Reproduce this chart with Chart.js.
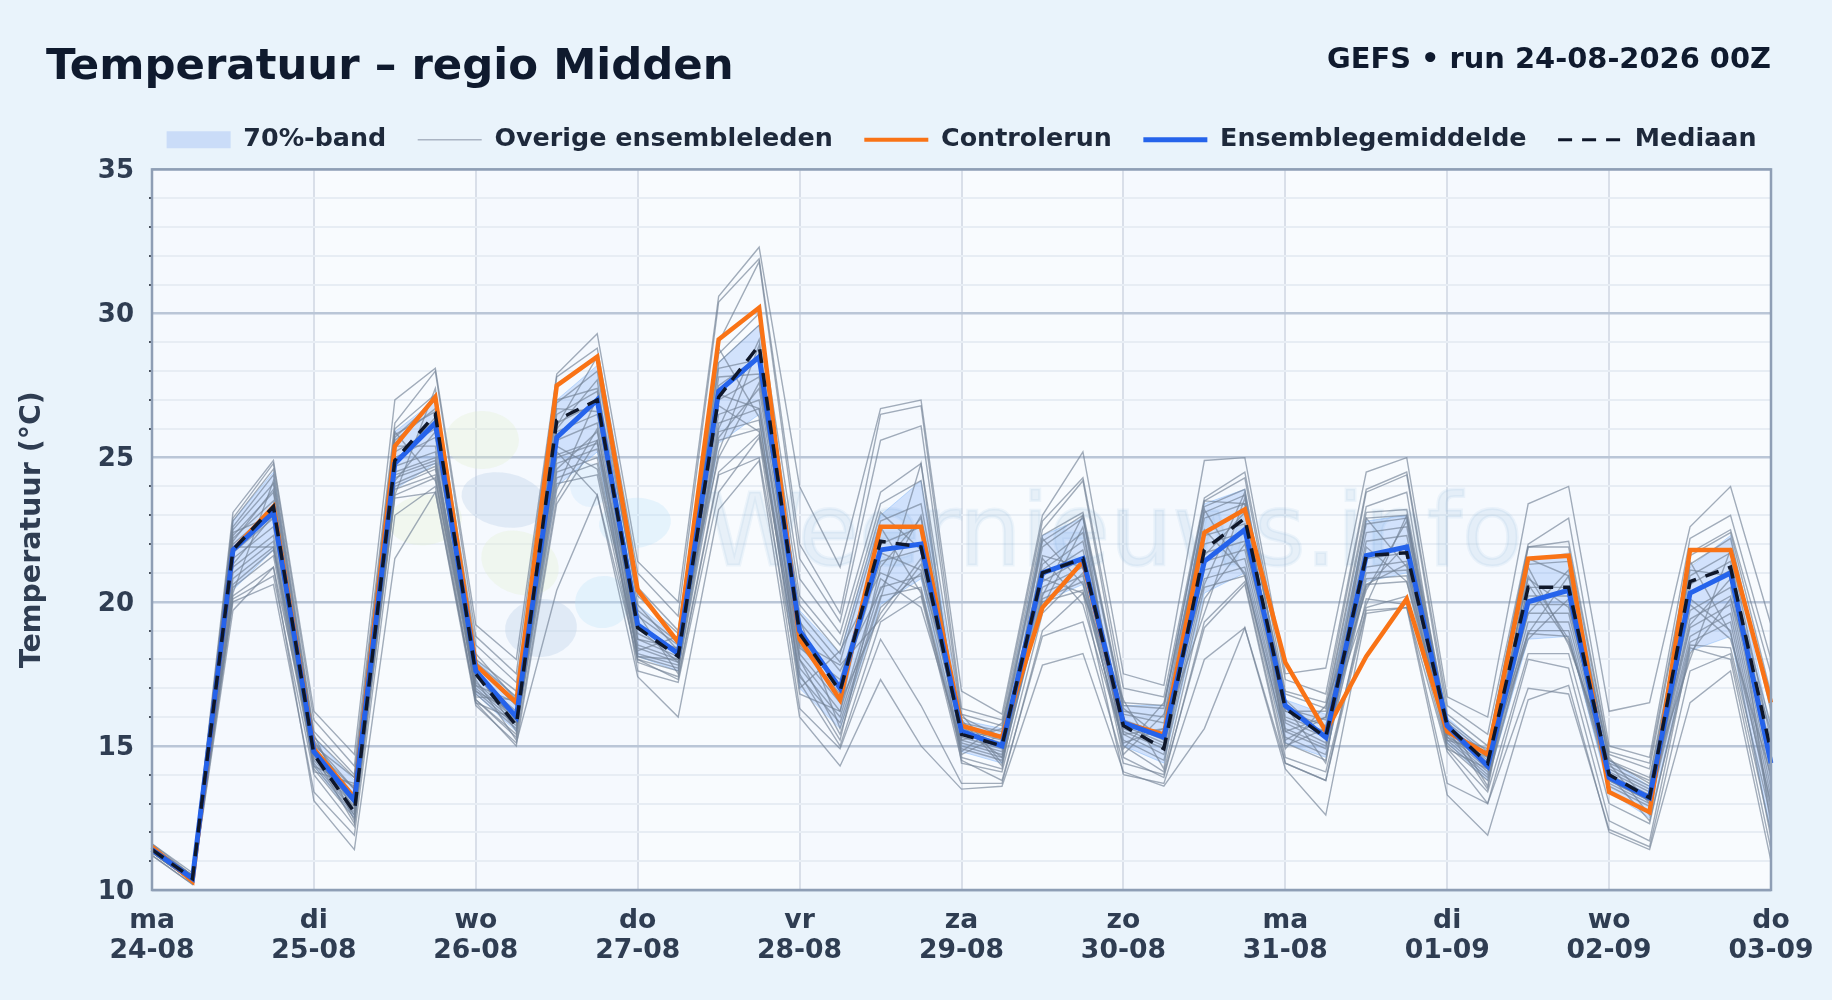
<!DOCTYPE html>
<html lang="nl">
<head>
    <meta charset="UTF-8" />
    <title>Temperatuur - regio Midden</title>
    <script src="https://cdn.jsdelivr.net/npm/chart.js"></script>
    <style>
        html, body { margin: 0; padding: 0; background: #e9f3fb; }
        body { width: 1832px; height: 1000px; position: relative; overflow: hidden; font-family: "DejaVu Sans", sans-serif; }
        h1 { position: absolute; left: 46px; top: 35px; margin: 0; font-size: 43.4px; line-height: 58px; font-weight: 700; color: #0f1a2e; }
        #run { position: absolute; right: 61px; top: 40px; font-size: 28.9px; line-height: 36px; font-weight: 700; color: #0f1a2e; }
        #wrap { position: absolute; left: 0; top: 0; width: 1832px; height: 1000px; }
    </style>
</head>
<body>
    <div id="wrap"><canvas id="tempChart"></canvas></div>
    <h1>Temperatuur – regio Midden</h1>
    <div id="run">GEFS • run 24-08-2026 00Z</div>

    <script>
        // one label per day, the run has 6-hourly steps
        const dayNames = ["ma", "di", "wo", "do", "vr", "za", "zo", "ma", "di", "wo", "do"];
        const dayDates = ["24-08", "25-08", "26-08", "27-08", "28-08", "29-08", "30-08", "31-08", "01-09", "02-09", "03-09"];
        const stepsPerDay = 4;
        const stepCount = 41;

        const ensembleMean = [11.4, 10.4, 21.8, 23.1, 14.8, 13.1, 24.8, 26.2, 17.6, 16.0, 25.7, 27.0, 19.2, 18.2, 27.3, 28.5, 19.0, 17.0, 21.8, 22.0, 15.5, 15.0, 21.0, 21.5, 15.8, 15.3, 21.4, 22.5, 16.4, 15.3, 21.6, 21.9, 15.7, 14.3, 20.0, 20.4, 13.9, 13.2, 20.3, 21.0, 14.4];
        const controlRun = [11.5, 10.3, 21.8, 23.3, 14.9, 13.2, 25.4, 27.1, 17.8, 16.5, 27.5, 28.5, 20.4, 18.6, 29.1, 30.2, 18.7, 16.6, 22.6, 22.6, 15.7, 15.3, 19.8, 21.4, 15.8, 15.4, 22.4, 23.2, 17.9, 15.5, 18.1, 20.1, 15.5, 14.7, 21.5, 21.6, 13.4, 12.7, 21.8, 21.8, 16.5];
        const median = [11.4, 10.4, 21.8, 23.3, 14.7, 12.7, 24.9, 26.5, 17.5, 15.7, 26.3, 27.0, 19.1, 18.1, 27.1, 28.9, 18.9, 16.9, 22.1, 21.9, 15.4, 15.0, 21.0, 21.5, 15.7, 14.9, 21.8, 22.9, 16.3, 15.3, 21.6, 21.7, 15.7, 14.4, 20.5, 20.5, 14.0, 13.2, 20.7, 21.2, 14.8];
        const bandLow = [11.3, 10.3, 20.4, 21.8, 14.3, 12.5, 23.9, 24.8, 16.8, 15.5, 24.0, 25.2, 18.1, 17.6, 25.5, 26.5, 17.0, 15.6, 19.9, 20.8, 14.8, 14.4, 20.0, 20.6, 15.0, 14.4, 20.3, 21.0, 15.1, 14.6, 20.7, 21.0, 15.1, 13.8, 18.7, 18.8, 13.4, 12.5, 18.3, 18.8, 12.0];
        const bandHigh = [11.5, 10.5, 22.8, 24.5, 15.3, 13.8, 25.9, 27.0, 18.0, 16.7, 27.0, 28.2, 19.9, 18.7, 28.3, 29.6, 19.7, 18.2, 23.0, 24.2, 15.9, 15.6, 22.3, 22.9, 16.4, 16.4, 23.4, 23.9, 16.6, 16.1, 22.8, 23.0, 16.0, 14.7, 21.4, 21.7, 14.5, 13.6, 21.2, 22.3, 15.5];

        const member01 = [11.6, 10.6, 23.1, 24.9, 16.2, 14.7, 27.0, 28.1, 19.2, 18.0, 27.9, 29.3, 21.4, 20.0, 30.6, 32.3, 24.0, 21.2, 26.7, 27.0, 16.9, 16.1, 23.0, 25.2, 17.5, 17.1, 24.9, 25.0, 17.5, 17.7, 24.5, 25.0, 16.7, 16.0, 23.4, 24.0, 16.2, 16.5, 22.6, 24.0, 19.2];
        const member02 = [11.6, 10.5, 22.9, 24.8, 15.9, 14.3, 26.2, 28.0, 18.8, 17.5, 27.8, 28.8, 21.0, 19.5, 30.4, 31.9, 22.0, 19.6, 26.5, 26.8, 16.3, 15.9, 22.8, 24.3, 17.0, 16.7, 23.6, 24.5, 17.3, 16.8, 23.9, 24.5, 16.4, 15.4, 22.0, 22.9, 15.0, 14.6, 22.2, 23.0, 18.0];
        const member03 = [11.5, 10.5, 22.8, 24.6, 15.5, 14.0, 26.0, 27.2, 18.5, 17.2, 26.1, 28.5, 20.5, 19.0, 29.0, 31.8, 21.5, 19.3, 25.6, 26.1, 16.1, 15.7, 22.5, 24.2, 16.5, 16.4, 23.5, 24.3, 16.9, 16.5, 23.8, 24.4, 16.1, 15.0, 21.9, 22.1, 14.8, 14.4, 21.7, 22.5, 17.5];
        const member04 = [11.5, 10.5, 22.6, 24.4, 15.3, 13.9, 25.7, 27.0, 18.2, 16.6, 27.0, 27.4, 20.2, 18.9, 28.6, 30.0, 20.8, 18.9, 23.8, 24.8, 16.0, 15.3, 22.3, 23.1, 16.4, 16.3, 23.5, 23.4, 16.8, 16.3, 23.3, 23.8, 15.4, 14.9, 21.9, 21.9, 14.7, 14.2, 21.6, 22.4, 16.8];
        const member05 = [11.5, 10.5, 22.5, 24.1, 15.2, 13.1, 25.6, 26.7, 18.0, 16.9, 26.9, 28.0, 19.9, 18.3, 28.3, 29.6, 20.2, 18.5, 23.4, 24.2, 15.2, 15.6, 22.1, 23.0, 16.3, 15.2, 23.3, 23.9, 16.2, 16.2, 23.1, 23.2, 15.9, 14.8, 21.5, 20.9, 14.6, 13.0, 21.3, 22.2, 16.2];
        const member06 = [11.4, 10.4, 22.3, 23.8, 15.1, 13.5, 25.4, 25.4, 17.9, 16.7, 26.7, 26.6, 19.7, 18.6, 28.1, 28.4, 19.9, 18.2, 23.1, 21.8, 15.8, 15.5, 21.9, 22.9, 16.2, 16.0, 23.1, 23.7, 16.6, 15.3, 22.9, 23.0, 15.8, 14.7, 21.3, 21.4, 14.5, 13.9, 21.1, 20.9, 15.7];
        const member07 = [11.4, 10.4, 22.2, 23.5, 15.0, 13.9, 25.2, 26.0, 17.1, 16.5, 26.5, 27.3, 19.5, 18.5, 27.8, 27.9, 19.6, 17.9, 22.8, 23.4, 15.7, 14.6, 21.6, 21.2, 16.1, 15.8, 22.9, 23.4, 15.5, 16.0, 22.7, 22.9, 15.7, 14.6, 19.6, 21.1, 14.4, 13.8, 20.9, 21.7, 15.2];
        const member08 = [11.4, 10.4, 22.0, 23.2, 14.9, 13.3, 25.0, 25.7, 17.5, 15.8, 26.2, 26.9, 18.7, 18.4, 27.5, 28.5, 19.3, 17.6, 20.4, 23.0, 15.6, 15.2, 21.3, 22.4, 15.4, 15.6, 21.6, 23.1, 16.3, 15.9, 22.4, 22.6, 15.6, 14.5, 20.8, 19.8, 14.3, 13.6, 20.6, 21.4, 14.8];
        const member09 = [11.4, 10.4, 21.7, 22.9, 14.8, 12.6, 24.8, 26.4, 17.4, 16.2, 25.9, 26.5, 19.1, 17.9, 27.2, 26.7, 18.4, 17.3, 22.0, 22.6, 15.5, 15.1, 21.1, 22.1, 15.9, 15.4, 22.3, 22.7, 16.2, 15.7, 22.1, 22.3, 15.6, 14.4, 20.5, 20.5, 14.2, 13.5, 20.3, 21.1, 14.4];
        const member10 = [11.4, 10.4, 21.5, 22.6, 14.7, 13.1, 24.7, 25.2, 16.9, 16.1, 25.6, 26.2, 18.9, 18.2, 27.0, 27.8, 18.8, 17.0, 21.7, 21.1, 15.4, 15.0, 20.9, 21.8, 15.8, 15.2, 22.0, 22.4, 16.0, 15.5, 20.5, 22.0, 15.5, 14.3, 20.2, 20.2, 14.1, 13.4, 19.2, 20.8, 14.1];
        const member11 = [11.3, 10.4, 21.2, 22.3, 14.6, 13.0, 24.5, 25.0, 17.2, 16.0, 24.6, 25.9, 18.7, 18.1, 25.7, 27.4, 18.5, 16.8, 21.4, 21.8, 15.3, 14.9, 20.7, 21.5, 15.7, 15.1, 21.7, 22.1, 15.9, 15.3, 21.5, 21.7, 15.4, 14.2, 19.9, 19.9, 14.0, 13.3, 19.7, 20.5, 13.8];
        const member12 = [11.3, 10.3, 21.0, 22.1, 14.5, 12.9, 24.3, 24.8, 17.1, 15.9, 25.1, 25.6, 18.5, 18.0, 26.5, 27.0, 18.2, 16.5, 19.6, 21.5, 15.2, 14.8, 20.5, 21.2, 15.6, 15.0, 21.4, 21.8, 15.8, 15.1, 21.2, 21.4, 15.3, 14.1, 19.6, 19.6, 13.9, 13.2, 19.4, 20.2, 13.5];
        const member13 = [11.3, 10.3, 20.8, 21.9, 14.4, 12.7, 24.1, 24.7, 17.0, 15.8, 24.8, 25.3, 18.4, 17.9, 26.2, 26.7, 18.0, 16.2, 20.8, 19.8, 15.1, 14.7, 20.3, 20.9, 15.5, 14.9, 21.1, 21.5, 15.6, 15.0, 21.0, 21.1, 15.2, 14.0, 19.3, 19.3, 13.8, 13.1, 19.1, 19.9, 13.2];
        const member14 = [11.3, 10.3, 20.6, 21.8, 14.3, 12.6, 24.0, 24.6, 16.9, 15.7, 24.5, 25.0, 18.2, 17.8, 25.9, 26.3, 17.7, 16.0, 20.5, 20.9, 15.0, 14.6, 20.1, 20.7, 15.4, 14.7, 20.8, 21.2, 15.5, 14.9, 20.8, 20.9, 15.1, 13.9, 19.0, 19.0, 13.7, 13.0, 18.8, 19.6, 12.9];
        const member15 = [11.3, 10.3, 20.5, 21.6, 14.2, 12.5, 23.9, 24.4, 16.8, 15.6, 24.3, 24.8, 18.1, 17.7, 25.6, 26.0, 17.4, 15.8, 20.2, 20.5, 14.9, 14.5, 20.0, 20.4, 15.2, 14.5, 20.5, 20.9, 15.3, 14.7, 20.6, 20.7, 15.0, 13.8, 18.9, 18.8, 13.6, 12.9, 18.6, 19.3, 12.7];
        const member16 = [11.4, 10.3, 22.1, 23.9, 14.9, 13.5, 25.8, 26.6, 17.8, 16.4, 25.0, 25.5, 19.2, 18.3, 26.8, 25.9, 18.0, 15.4, 19.8, 21.0, 15.9, 14.3, 22.2, 20.6, 15.0, 14.1, 20.1, 22.0, 16.4, 14.4, 22.9, 21.2, 15.2, 14.8, 18.9, 20.9, 13.4, 12.7, 21.4, 18.9, 13.0];
        const member17 = [11.5, 10.4, 22.4, 23.0, 14.3, 13.6, 24.2, 25.9, 16.6, 15.4, 26.0, 27.7, 18.0, 17.6, 25.2, 28.9, 17.0, 18.3, 21.0, 20.4, 14.7, 15.4, 19.8, 22.6, 14.9, 16.5, 22.5, 21.0, 15.2, 16.0, 20.4, 22.8, 14.9, 14.2, 20.9, 18.7, 14.0, 12.4, 18.2, 20.1, 15.5];
        const member18 = [11.4, 10.4, 20.3, 24.2, 15.4, 12.4, 24.4, 24.9, 17.6, 15.5, 23.9, 27.1, 19.6, 17.5, 28.8, 26.4, 16.8, 16.2, 22.6, 20.3, 14.8, 15.8, 20.8, 20.3, 16.6, 14.2, 23.2, 20.9, 14.9, 16.4, 20.6, 21.3, 15.9, 13.6, 21.2, 18.5, 14.5, 13.7, 18.0, 21.8, 12.2];
        const member19 = [11.5, 10.5, 21.9, 21.9, 15.0, 12.8, 23.7, 27.4, 16.7, 16.6, 25.4, 24.6, 18.3, 18.8, 25.0, 27.6, 19.4, 15.6, 20.1, 24.8, 14.6, 14.2, 21.5, 19.9, 15.1, 15.6, 19.6, 23.6, 15.0, 15.6, 19.9, 23.0, 15.3, 14.6, 18.7, 20.1, 13.8, 13.1, 19.9, 18.7, 14.0];
        const member20 = [11.3, 10.3, 21.3, 23.0, 14.1, 13.7, 25.9, 24.2, 17.3, 15.2, 23.6, 26.0, 18.1, 18.0, 26.0, 29.1, 18.6, 17.8, 19.4, 21.3, 16.1, 14.4, 20.2, 23.0, 14.7, 16.1, 20.6, 23.8, 15.1, 14.5, 21.9, 20.7, 15.6, 13.5, 20.6, 18.6, 14.4, 12.6, 20.1, 19.0, 11.8];
        const member21 = [11.4, 10.4, 20.2, 21.2, 14.7, 12.3, 23.7, 24.3, 16.5, 15.9, 24.1, 24.4, 17.9, 17.4, 24.5, 25.8, 17.5, 15.2, 21.2, 22.9, 14.4, 14.1, 19.6, 21.0, 14.6, 13.9, 19.3, 20.7, 14.6, 14.1, 19.8, 20.2, 14.9, 13.4, 18.2, 18.2, 13.0, 12.3, 18.5, 18.4, 12.5];
        const member22 = [11.3, 10.3, 20.1, 20.9, 14.0, 12.2, 23.6, 23.8, 16.6, 15.3, 25.2, 23.7, 18.0, 17.3, 24.4, 25.0, 17.2, 15.0, 19.3, 20.2, 14.5, 13.8, 18.8, 19.3, 14.4, 14.0, 19.1, 20.6, 14.4, 13.8, 19.7, 19.8, 14.8, 13.0, 18.0, 17.7, 12.4, 11.7, 18.4, 18.0, 11.4];
        const member23 = [11.2, 10.2, 20.0, 20.6, 13.4, 11.9, 23.0, 24.0, 16.5, 15.0, 23.4, 25.6, 17.6, 17.2, 23.8, 25.7, 16.3, 14.9, 18.7, 16.4, 13.7, 13.7, 19.0, 20.3, 14.0, 13.7, 18.0, 19.1, 14.4, 13.8, 20.1, 19.9, 13.7, 13.0, 17.0, 16.8, 12.1, 11.5, 17.6, 18.2, 12.0];
        const member24 = [11.2, 10.2, 19.7, 21.2, 13.1, 11.4, 21.5, 23.8, 16.4, 15.1, 20.4, 23.7, 17.4, 16.0, 23.2, 24.9, 16.0, 14.3, 17.3, 15.0, 13.5, 13.6, 17.8, 18.2, 14.1, 13.6, 15.6, 19.1, 14.2, 12.6, 19.6, 19.8, 13.3, 11.9, 16.6, 17.1, 12.0, 11.4, 16.5, 17.6, 11.0];

        const ensembleMembers = [member01, member02, member03, member04, member05, member06, member07, member08,
            member09, member10, member11, member12, member13, member14, member15, member16,
            member17, member18, member19, member20, member21, member22, member23, member24];

        const legendItems = [
            { text: "70%-band", pointStyle: "rect", fillStyle: "#cadcf8", strokeStyle: "#cadcf8", lineWidth: 0 },
            { text: "Overige ensembleleden", pointStyle: "line", fillStyle: "#aab4c3", strokeStyle: "#aab4c3", lineWidth: 1.5 },
            { text: "Controlerun", pointStyle: "line", fillStyle: "#f97316", strokeStyle: "#f97316", lineWidth: 4 },
            { text: "Ensemblegemiddelde", pointStyle: "line", fillStyle: "#2563eb", strokeStyle: "#2563eb", lineWidth: 5 },
            { text: "Mediaan", pointStyle: "line", fillStyle: "#0f172a", strokeStyle: "#0f172a", lineWidth: 3, lineDash: [14, 10] }
        ];

        const axisFont = { family: "'DejaVu Sans'", size: 26, weight: "700" };
        const textColor = "#2f3d52";
        const labels = Array.from({ length: stepCount }, (_, i) => i);

        const datasets = [
            { label: "bandLow", data: bandLow, borderColor: "rgba(96,165,250,0.35)", borderWidth: 1, pointRadius: 0, fill: false, order: 50 },
            { label: "bandHigh", data: bandHigh, borderColor: "rgba(96,165,250,0.35)", borderWidth: 1, pointRadius: 0, backgroundColor: "rgba(59,130,246,0.2)", fill: "-1", order: 50 }
        ];
        ensembleMembers.forEach((member, i) => {
            datasets.push({ label: "lid " + (i + 1), data: member, borderColor: "rgba(115,130,150,0.66)", borderWidth: 1.4, pointRadius: 0, fill: false, order: 10 });
        });
        datasets.push({ label: "Controlerun", data: controlRun, borderColor: "#f97316", borderWidth: 4.5, pointRadius: 0, fill: false, order: 3 });
        datasets.push({ label: "Ensemblegemiddelde", data: ensembleMean, borderColor: "#2563eb", borderWidth: 5, pointRadius: 0, fill: false, order: 2 });
        datasets.push({ label: "Mediaan", data: median, borderColor: "#0f172a", borderWidth: 3.5, borderDash: [14, 10], pointRadius: 0, fill: false, order: 1 });

        // plot background with faint day bands and the day lines
        const plotBackground = {
            id: "plotBackground",
            beforeDraw(chart) {
                const { ctx, chartArea: a, scales: { x } } = chart;
                ctx.save();
                ctx.fillStyle = "#f8fbfe";
                ctx.fillRect(a.left, a.top, a.width, a.height);
                ctx.fillStyle = "rgba(219,234,254,0.08)";
                for (let d = 0; d < dayDates.length - 1; d += 2) {
                    const x0 = x.getPixelForValue(d * stepsPerDay);
                    const x1 = x.getPixelForValue((d + 1) * stepsPerDay);
                    ctx.fillRect(x0, a.top, x1 - x0, a.height);
                }
                ctx.fillStyle = "#d9dfe9";
                dayDates.forEach((date, d) => {
                    ctx.fillRect(Math.round(x.getPixelForValue(d * stepsPerDay)) - 1, a.top, 2, a.height);
                });
                ctx.restore();
            }
        };

        // site logo and name behind the lines
        const watermark = {
            id: "watermark",
            beforeDatasetsDraw(chart) {
                const { ctx } = chart;
                ctx.save();
                const blob = (color, cx, cy, rx, ry, rot) => {
                    ctx.fillStyle = color;
                    ctx.beginPath();
                    ctx.ellipse(cx, cy, rx, ry, rot, 0, Math.PI * 2);
                    ctx.fill();
                };
                blob("rgba(226,240,205,0.3)", 482, 440, 37, 29, 0);
                blob("rgba(226,240,205,0.3)", 425, 520, 37, 25, -0.1);
                blob("rgba(226,240,205,0.3)", 520, 563, 40, 31, 0.4);
                blob("rgba(170,195,225,0.27)", 504, 500, 43, 27, 0.2);
                blob("rgba(170,195,225,0.27)", 541, 628, 36, 29, -0.1);
                blob("rgba(186,225,250,0.3)", 635, 523, 36, 25, -0.1);
                blob("rgba(186,225,250,0.3)", 603, 602, 28, 26, -0.2);
                blob("rgba(186,225,250,0.25)", 590, 485, 20, 22, 0);
                ctx.fillStyle = "rgba(130,175,215,0.14)";
                ctx.font = "99px 'DejaVu Sans'";
                ctx.textBaseline = "alphabetic";
                ctx.fillText("Weernieuws.info", 706, 565);
                ctx.strokeStyle = "rgba(130,175,215,0.1)";
                ctx.lineWidth = 3;
                ctx.strokeText("Weernieuws.info", 706, 565);
                ctx.restore();
            }
        };

        // frame on top of everything, legend nudged to its place
        const plotFrame = {
            id: "plotFrame",
            afterLayout(chart) {
                const legend = chart.legend;
                legend.left += 17;
                legend.right += 17;
                legend.top -= 7;
                legend.bottom -= 7;
            },
            afterDatasetsDraw(chart) {
                const { ctx, chartArea: a } = chart;
                ctx.save();
                ctx.strokeStyle = "#8e9eb5";
                ctx.lineWidth = 2.5;
                ctx.strokeRect(a.left, a.top, a.width, a.height);
                ctx.restore();
            }
        };

        new Chart(document.getElementById("tempChart"), {
            type: "line",
            data: { labels: labels, datasets: datasets },
            plugins: [plotBackground, watermark, plotFrame],
            options: {
                responsive: true,
                maintainAspectRatio: false,
                animation: false,
                layout: { padding: { top: 102.5, right: 61, bottom: 0, left: 0 } },
                elements: { line: { tension: 0, borderJoinStyle: "miter" } },
                plugins: {
                    title: { display: false },
                    tooltip: { enabled: false },
                    legend: {
                        position: "top",
                        align: "end",
                        labels: {
                            usePointStyle: true,
                            pointStyleWidth: 64,
                            boxHeight: 17,
                            padding: 31.5,
                            color: "#1e293b",
                            font: { family: "'DejaVu Sans'", size: 25.4, weight: "700" },
                            generateLabels: () => legendItems.map(item => ({ ...item, fontColor: "#1e293b", hidden: false }))
                        }
                    }
                },
                scales: {
                    x: {
                        type: "category",
                        afterFit(scale) { scale.height = 110; },
                        border: { display: false },
                        grid: { display: false, drawTicks: false },
                        ticks: {
                            autoSkip: false,
                            maxRotation: 0,
                            minRotation: 0,
                            padding: 16,
                            color: textColor,
                            font: { ...axisFont, size: 26.6, lineHeight: 1.12 },
                            callback: (value, i) => (i % stepsPerDay === 0 ? [dayNames[i / stepsPerDay], dayDates[i / stepsPerDay]] : null)
                        }
                    },
                    y: {
                        min: 10,
                        max: 35,
                        afterFit(scale) { scale.width = 152; },
                        border: { display: false },
                        title: {
                            display: true,
                            text: "Temperatuur (°C)",
                            color: textColor,
                            font: { ...axisFont, size: 28.5 },
                            padding: { top: 15, bottom: 0 }
                        },
                        grid: {
                            color: ctx => (ctx.tick && ctx.tick.value % 5 === 0 ? "#bac6d7" : "#e7edf4"),
                            lineWidth: ctx => (ctx.tick && ctx.tick.value % 5 === 0 ? 2.5 : 2),
                            tickColor: ctx => (ctx.tick && ctx.tick.value % 5 === 0 ? "transparent" : "#111827"),
                            tickLength: 3,
                            tickWidth: 1.5
                        },
                        ticks: {
                            stepSize: 1,
                            autoSkip: false,
                            padding: 15,
                            labelOffset: 2,
                            color: textColor,
                            font: axisFont,
                            callback: value => (value % 5 === 0 ? String(value) : "")
                        }
                    }
                }
            }
        });
    </script>
</body>
</html>
